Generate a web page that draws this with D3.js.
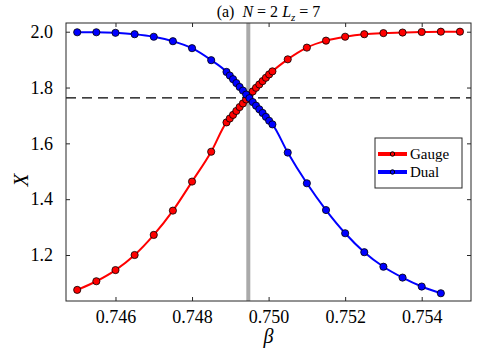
<!DOCTYPE html>
<html>
<head>
<meta charset="utf-8">
<script src="https://cdn.jsdelivr.net/npm/d3@7"></script>
<style>
  body { margin: 0; background: #fff; }
  svg text { font-family: "Liberation Serif", "DejaVu Serif", serif; }
</style>
</head>
<body>
<div id="chart"></div>
<script>
// beta values (coarse grid plus dense grid around the crossing)
const betaGauge = [
  0.745, 0.7455, 0.746, 0.7465, 0.747, 0.7475, 0.748, 0.7485,
  0.74890, 0.748986, 0.749071, 0.749157, 0.749243, 0.749329, 0.749414, 0.7495,
  0.749586, 0.749671, 0.749757, 0.749843, 0.749929, 0.750014, 0.7501,
  0.7505, 0.751, 0.7515, 0.752, 0.7525, 0.753, 0.7535, 0.754, 0.7545, 0.755
];
const gaugeX = [
  1.075, 1.106, 1.146, 1.200, 1.272, 1.359, 1.463, 1.570,
  1.675, 1.689, 1.702, 1.716, 1.730, 1.743, 1.757, 1.771,
  1.786, 1.799, 1.811, 1.823, 1.835, 1.847, 1.858,
  1.901, 1.943, 1.968, 1.982, 1.991, 1.995, 1.997, 1.999, 2.000, 2.000
];
const betaDual = [
  0.745, 0.7455, 0.746, 0.7465, 0.747, 0.7475, 0.748, 0.7485,
  0.74890, 0.748986, 0.749071, 0.749157, 0.749243, 0.749329, 0.749414, 0.7495,
  0.749586, 0.749671, 0.749757, 0.749843, 0.749929, 0.750014, 0.7501,
  0.7505, 0.751, 0.7515, 0.752, 0.7525, 0.753, 0.7535, 0.754, 0.7545
];
const dualX = [
  1.998, 1.998, 1.996, 1.991, 1.982, 1.966, 1.941, 1.898,
  1.856, 1.843, 1.830, 1.816, 1.802, 1.789, 1.775, 1.762,
  1.748, 1.735, 1.722, 1.709, 1.695, 1.681, 1.668,
  1.567, 1.457, 1.361, 1.278, 1.210, 1.158, 1.119, 1.087, 1.063
];
const betaCritical = 0.74947;
const xCross = 1.763;
const xTicks = [0.746, 0.748, 0.750, 0.752, 0.754];
const yTicks = [1.2, 1.4, 1.6, 1.8, 2.0];
const seriesNames = ["Gauge", "Dual"];
const seriesColors = ["#ff0000", "#0000ff"];

const serif = '"Liberation Serif", "DejaVu Serif", serif';
const fullW = 478, fullH = 359;
const margin = { top: 23, right: 7, bottom: 58, left: 66 };
const w = fullW - margin.left - margin.right;
const h = fullH - margin.top - margin.bottom;

const svg = d3.select("#chart").append("svg")
  .attr("width", fullW)
  .attr("height", fullH)
  .attr("font-family", serif);
const g = svg.append("g").attr("transform", `translate(${margin.left},${margin.top})`);

const x = d3.scaleLinear().domain([0.744707, 0.755288]).range([0, w]);
const y = d3.scaleLinear().domain([1.0352, 2.0312]).range([h, 0]);

// axes (ticks inside, mirrored on top / right)
const axColor = "#262626";
const styleAxis = sel => {
  sel.attr("font-family", serif).attr("font-size", 18);
  sel.select(".domain").remove();
  sel.selectAll("line").attr("stroke", axColor);
  sel.selectAll("text").attr("fill", "#000").style("font-family", serif).style("font-size", "18px");
};
g.append("g").attr("transform", `translate(0,${h})`)
  .call(d3.axisBottom(x).tickValues(xTicks).tickSize(-4).tickPadding(9).tickFormat(d3.format(".3f")))
  .call(styleAxis);
g.append("g")
  .call(d3.axisLeft(y).tickValues(yTicks).tickSize(-4).tickPadding(13).tickFormat(d3.format(".1f")))
  .call(styleAxis);
g.append("g")
  .call(d3.axisTop(x).tickValues(xTicks).tickSize(-4).tickFormat(""))
  .call(styleAxis);
g.append("g").attr("transform", `translate(${w},0)`)
  .call(d3.axisRight(y).tickValues(yTicks).tickSize(-4).tickFormat(""))
  .call(styleAxis);

// reference lines
g.append("line")
  .attr("x1", x(betaCritical)).attr("x2", x(betaCritical))
  .attr("y1", 0).attr("y2", h)
  .attr("stroke", "#aaaaaa").attr("stroke-width", 4);
g.append("line")
  .attr("x1", 0).attr("x2", w)
  .attr("y1", y(xCross)).attr("y2", y(xCross))
  .attr("stroke", "#000").attr("stroke-width", 1.3)
  .attr("stroke-dasharray", "10,6");

// series
const series = [
  { name: seriesNames[0], color: seriesColors[0], pts: betaGauge.map((b, i) => [b, gaugeX[i]]) },
  { name: seriesNames[1], color: seriesColors[1], pts: betaDual.map((b, i) => [b, dualX[i]]) }
];
const line = d3.line().x(d => x(d[0])).y(d => y(d[1])).curve(d3.curveMonotoneX);

series.forEach(s => {
  g.append("path")
    .datum(s.pts)
    .attr("fill", "none")
    .attr("stroke", s.color)
    .attr("stroke-width", 2)
    .attr("d", line);
  g.append("g").selectAll("circle")
    .data(s.pts)
    .join("circle")
      .attr("cx", d => x(d[0]))
      .attr("cy", d => y(d[1]))
      .attr("r", 3.6)
      .attr("fill", s.color)
      .attr("stroke", "#000")
      .attr("stroke-width", 0.8);
});

// box
g.append("rect")
  .attr("width", w).attr("height", h)
  .attr("fill", "none").attr("stroke", axColor).attr("stroke-width", 1);

// labels
svg.append("text")
  .attr("x", margin.left + w / 2)
  .attr("y", 17)
  .attr("text-anchor", "middle")
  .style("font-size", "16px")
  .html('(a)&#160;&#160;<tspan font-style="italic">N</tspan> = 2 <tspan font-style="italic">L</tspan><tspan font-style="italic" font-size="11px" dy="4">z</tspan><tspan dy="-4"> = 7</tspan>');

svg.append("text")
  .attr("x", margin.left + w / 2)
  .attr("y", 343)
  .attr("text-anchor", "middle")
  .style("font-size", "20px")
  .style("font-style", "italic")
  .text("β");

svg.append("text")
  .attr("transform", `translate(28,${margin.top + h / 2 + 18}) rotate(-90)`)
  .attr("text-anchor", "middle")
  .style("font-size", "21px")
  .style("font-style", "italic")
  .text("X");

// legend
const legend = g.append("g").attr("transform", `translate(${375 - margin.left},${138 - margin.top})`);
legend.append("rect")
  .attr("width", 87).attr("height", 50)
  .attr("fill", "#fff").attr("stroke", axColor).attr("stroke-width", 1);
const items = legend.selectAll(".legend-item")
  .data(series)
  .join("g")
  .attr("class", "legend-item")
  .attr("transform", (d, i) => `translate(0,${16 + i * 18})`);
items.append("line")
  .attr("x1", 3).attr("x2", 32)
  .attr("stroke", d => d.color).attr("stroke-width", 4);
items.append("circle")
  .attr("cx", 17.5).attr("r", 2.2)
  .attr("fill", d => d.color).attr("stroke", "#000").attr("stroke-width", 1);
items.append("text")
  .attr("x", 35).attr("y", 5)
  .style("font-size", "15px")
  .text(d => d.name);
</script>
</body>
</html>
